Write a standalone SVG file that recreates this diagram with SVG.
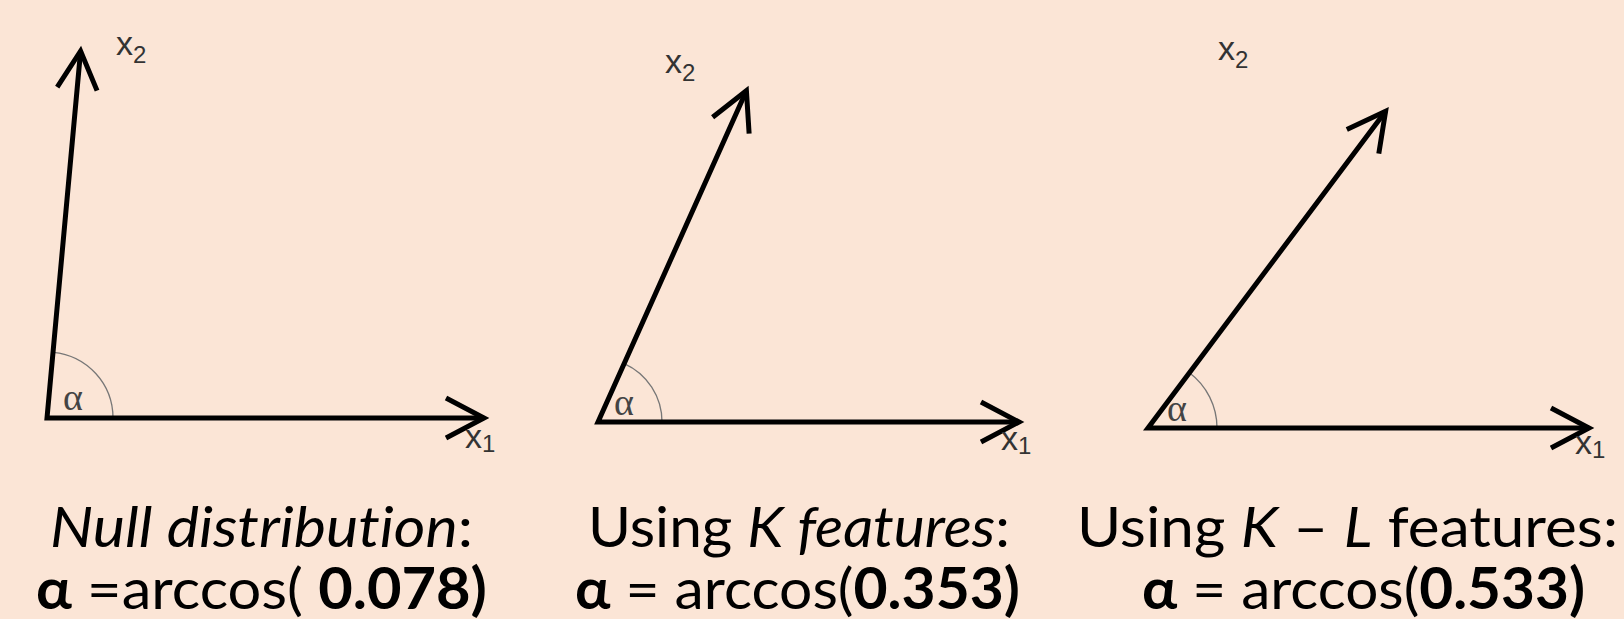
<svg xmlns="http://www.w3.org/2000/svg" width="1624" height="619" viewBox="0 0 1624 619">
<style>
.axis{fill:none;stroke:#000;stroke-width:5;stroke-linejoin:miter;marker-start:url(#arr);marker-end:url(#arr)}
.arc{fill:none;stroke:#777;stroke-width:1.3}
.alpha{font-family:"Liberation Serif",serif;font-size:38px;fill:#444}
.lbl{font-family:"Liberation Sans",Arial,sans-serif;font-size:34px;fill:#333}
.sub{font-size:24px}
.cap{font-family:Lato,"Open Sans",sans-serif;font-size:57px;fill:#000;font-variant-ligatures:none}
.it{font-style:italic}
.b{font-weight:bold}
</style>
<defs>
<marker id="arr" markerUnits="userSpaceOnUse" markerWidth="60" markerHeight="60" viewBox="-50 -30 60 60" refX="0" refY="0" orient="auto-start-reverse" overflow="visible">
<path d="M-38,-20 L0,0 L-38,20" fill="none" stroke="#000" stroke-width="5"/>
</marker>
</defs>
<rect x="0" y="0" width="1624" height="619" fill="#FBE5D6"/>
<g id="panel-null">
<path class="arc" d="M113,418 A66,66 0 0 0 53.1,352.3"/>
<path class="axis" d="M80.6,51 L47,418 L484,418"/>
<text class="alpha" x="63" y="410">α</text>
<text class="lbl" x="116" y="55">x<tspan class="sub" dy="8">2</tspan></text>
<text class="lbl" x="465" y="448">x<tspan class="sub" dy="4">1</tspan></text>
<text class="cap" x="50" y="547" textLength="423" lengthAdjust="spacingAndGlyphs"><tspan class="it">Null distribution</tspan>:</text>
<text class="cap" x="36" y="609" textLength="451" lengthAdjust="spacingAndGlyphs"><tspan class="b">α</tspan> =arccos( <tspan class="b">0.078)</tspan></text>
</g>
<g id="panel-k">
<path class="arc" d="M662,422 A64,64 0 0 0 624.2,363.6"/>
<path class="axis" d="M746.4,90.7 L598,422 L1019,422"/>
<text class="alpha" x="614" y="415">α</text>
<text class="lbl" x="665" y="73">x<tspan class="sub" dy="8">2</tspan></text>
<text class="lbl" x="1001" y="450">x<tspan class="sub" dy="4">1</tspan></text>
<text class="cap" x="588" y="547" textLength="422" lengthAdjust="spacingAndGlyphs">Using <tspan class="it">K features</tspan>:</text>
<text class="cap" x="575" y="609" textLength="445" lengthAdjust="spacingAndGlyphs"><tspan class="b">α</tspan> = arccos(<tspan class="b">0.353)</tspan></text>
</g>
<g id="panel-kl">
<path class="arc" d="M1217,428 A69,69 0 0 0 1189.4,372.8"/>
<path class="axis" d="M1385.6,111.2 L1148,428 L1589,428"/>
<text class="alpha" x="1167" y="421">α</text>
<text class="lbl" x="1218" y="60">x<tspan class="sub" dy="8">2</tspan></text>
<text class="lbl" x="1575" y="454">x<tspan class="sub" dy="4">1</tspan></text>
<text class="cap" x="1077" y="547" textLength="541" lengthAdjust="spacingAndGlyphs">Using <tspan class="it">K</tspan> – <tspan class="it">L</tspan> features:</text>
<text class="cap" x="1142" y="609" textLength="443" lengthAdjust="spacingAndGlyphs"><tspan class="b">α</tspan> = arccos(<tspan class="b">0.533)</tspan></text>
</g>
</svg>
